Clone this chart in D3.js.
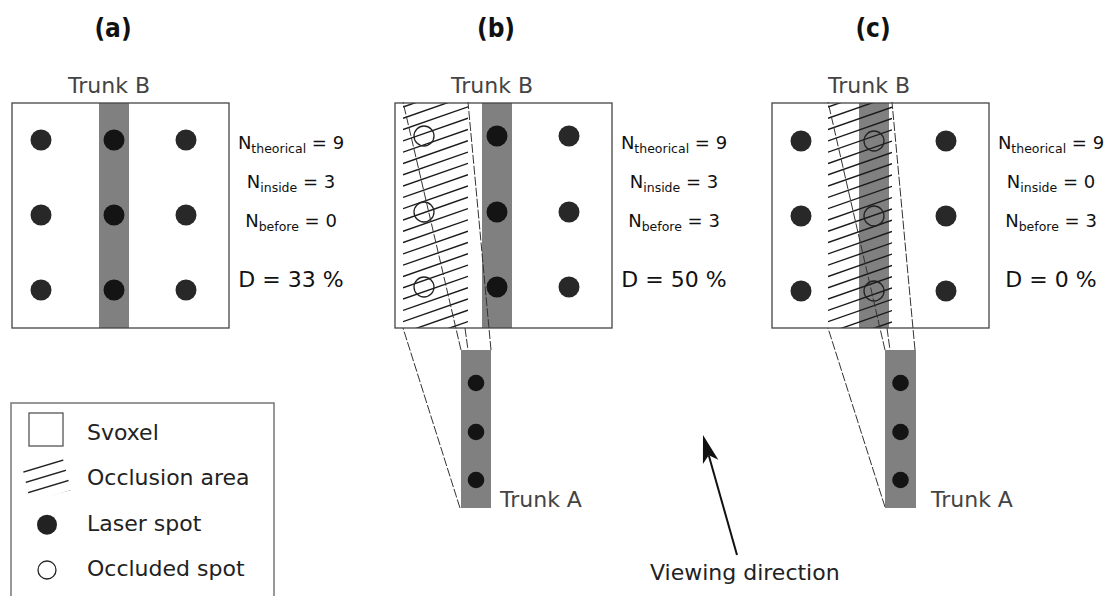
<!DOCTYPE html>
<html><head><meta charset="utf-8">
<script src="https://cdn.jsdelivr.net/npm/d3@7"></script>
<style>body{margin:0;background:#fff} svg{display:block;font-family:"DejaVu Sans",sans-serif}</style>
</head><body><svg id="c" width="1106" height="596"></svg>
<script>
// ---------- data ----------
const panelLabels = ["(a)", "(b)", "(c)"];
const nTheorical = [9, 9, 9];
const nInside = [3, 3, 0];
const nBefore = [0, 3, 3];
const densityPct = [33, 50, 0];
const occludedColumn = [null, 0, 1];
const hasTrunkA = [false, true, true];
const legendLabels = ["Svoxel", "Occlusion area", "Laser spot", "Occluded spot"];
const viewingLabel = "Viewing direction";
// diagram geometry, in svoxel-local units (svoxel = 217 x 225)
const svoxelSize = [217, 225];
const spotCols = [29, 102, 174];
const spotRows = [[37, 112, 187], [33, 109, 184], [38, 113, 188]];
const trunkBX = [87, 117];
const trunkAX = [null, [66, 96], [113, 144]];
const trunkAY = [247, 405];
const trunkASpotRows = [280, 329, 377];
const shadowX = [null, [8, 73], [56, 120]];
const rays = [
  [],
  [[66, 247, 8, -1], [96, 247, 73, -1], [65, 405, 8, 225], [70, 225, 73, 247]],
  [[113, 247, 56, -1], [143, 247, 120, -1], [113, 404, 56, 225], [115, 225, 118, 247]]
];
const trunkALabelOffset = [null, 9, 15];

// ---------- layout ----------
const svg = d3.select("#c");
const panelLeft = d3.scaleOrdinal().domain(panelLabels).range([12, 395, 772]);
const sy = d3.scaleLinear().domain([0, svoxelSize[1]]).range([103, 328]);
const HATCH_SLOPE = 0.35, HATCH_STEP = 11.3;

panelLabels.forEach((lab, i) => {
  const left = panelLeft(lab);
  const sx = d3.scaleLinear().domain([0, svoxelSize[0]]).range([left, left + svoxelSize[0]]);
  const g = svg.append("g");

  // panel label
  g.append("text").attr("x", sx(101)).attr("y", 37).attr("text-anchor", "middle")
    .style("font-family", "'DejaVu Sans Condensed','DejaVu Sans',sans-serif")
    .style("font-weight", "bold").style("font-size", "26px").attr("fill", "#111").text(lab);

  // svoxel background
  g.append("rect").attr("x", sx(0)).attr("y", sy(0)).attr("width", sx(svoxelSize[0]) - sx(0))
    .attr("height", sy(svoxelSize[1]) - sy(0)).attr("fill", "#fff");

  // trunk B
  g.append("rect").attr("x", sx(trunkBX[0])).attr("y", sy(0)).attr("width", sx(trunkBX[1]) - sx(trunkBX[0]))
    .attr("height", sy(svoxelSize[1]) - sy(0)).attr("fill", "#808080");
  g.append("text").attr("x", sx((trunkBX[0] + trunkBX[1]) / 2) - 5).attr("y", 93).attr("text-anchor", "middle")
    .style("font-size", "22px").attr("fill", "#444").text("Trunk B");

  // occlusion area hatch
  if (shadowX[i]) {
    const id = "clip" + i;
    const x0 = sx(shadowX[i][0]), x1 = sx(shadowX[i][1]);
    svg.append("clipPath").attr("id", id).append("rect")
      .attr("x", x0).attr("y", sy(0)).attr("width", x1 - x0).attr("height", sy(svoxelSize[1]) - sy(0));
    const w = x1 - x0;
    const ys = d3.range(sy(0) + 4, sy(svoxelSize[1]) + HATCH_SLOPE * w + HATCH_STEP, HATCH_STEP);
    g.append("g").attr("clip-path", `url(#${id})`).selectAll("line").data(ys).join("line")
      .attr("x1", x0).attr("y1", d => d).attr("x2", x1).attr("y2", d => d - HATCH_SLOPE * w)
      .attr("stroke", "#1a1a1a").attr("stroke-width", 1.4);
  }

  // spots
  spotCols.forEach((cx, c) => {
    spotRows[i].forEach(cy => {
      const occ = occludedColumn[i] === c;
      const inTrunk = cx > trunkBX[0] && cx < trunkBX[1];
      g.append("circle").attr("cx", sx(cx)).attr("cy", sy(cy))
        .attr("r", occ ? 10 : 10.5)
        .attr("fill", occ ? "none" : (inTrunk ? "#141414" : "#282828"))
        .attr("stroke", occ ? "#222" : "none").attr("stroke-width", 1.3);
    });
  });

  // viewing rays
  g.selectAll("line.ray").data(rays[i]).join("line").attr("class", "ray")
    .attr("x1", d => sx(d[0])).attr("y1", d => sy(d[1])).attr("x2", d => sx(d[2])).attr("y2", d => sy(d[3]))
    .attr("stroke", "#333").attr("stroke-width", 1).attr("stroke-dasharray", "9,2");

  // svoxel border
  g.append("rect").attr("x", sx(0)).attr("y", sy(0)).attr("width", sx(svoxelSize[0]) - sx(0))
    .attr("height", sy(svoxelSize[1]) - sy(0)).attr("fill", "none").attr("stroke", "#444").attr("stroke-width", 1.3);

  // trunk A
  if (hasTrunkA[i]) {
    const tx = trunkAX[i];
    g.append("rect").attr("x", sx(tx[0])).attr("y", sy(trunkAY[0])).attr("width", sx(tx[1]) - sx(tx[0]))
      .attr("height", sy(trunkAY[1]) - sy(trunkAY[0])).attr("fill", "#808080");
    trunkASpotRows.forEach(cy => {
      g.append("circle").attr("cx", sx((tx[0] + tx[1]) / 2)).attr("cy", sy(cy)).attr("r", 8.3).attr("fill", "#141414");
    });
    g.append("text").attr("x", sx(tx[1]) + trunkALabelOffset[i]).attr("y", sy(trunkAY[1]) - 1)
      .style("font-size", "22px").attr("fill", "#444").text("Trunk A");
  }

  // counts
  const tx = sx(svoxelSize[0]) + 62;
  const nLine = (y, sub, val) => {
    const t = g.append("text").attr("x", tx).attr("y", y).attr("text-anchor", "middle")
      .style("font-size", "18px").attr("fill", "#111");
    t.append("tspan").text("N");
    t.append("tspan").attr("dy", 4).style("font-size", "12.5px").text(sub);
    t.append("tspan").attr("dy", -4).text(" = " + val);
  };
  nLine(149, "theorical", nTheorical[i]);
  nLine(188, "inside", nInside[i]);
  nLine(227, "before", nBefore[i]);
  g.append("text").attr("x", tx).attr("y", 287).attr("text-anchor", "middle")
    .style("font-size", "22px").attr("fill", "#111").text("D = " + densityPct[i] + " %");
});

// ---------- legend ----------
const lg = svg.append("g");
lg.append("rect").attr("x", 11).attr("y", 403).attr("width", 263).attr("height", 230)
  .attr("fill", "none").attr("stroke", "#777").attr("stroke-width", 1.5);
const ly = d3.scalePoint().domain(legendLabels).range([440, 576]);
lg.selectAll("text").data(legendLabels).join("text").attr("x", 87).attr("y", d => ly(d))
  .style("font-size", "22px").attr("fill", "#222").text(d => d);
lg.append("rect").attr("x", 29).attr("y", 413).attr("width", 34).attr("height", 33)
  .attr("fill", "none").attr("stroke", "#555").attr("stroke-width", 1.3);
lg.append("clipPath").attr("id", "lgclip").append("path").attr("d", "M22,466 L62,455 L71,490 L30,501 Z");
const lys = d3.range(462, 520, 11);
lg.append("g").attr("clip-path", "url(#lgclip)").selectAll("line").data(lys).join("line")
  .attr("x1", 20).attr("y1", d => d).attr("x2", 72).attr("y2", d => d - 0.3 * 52)
  .attr("stroke", "#222").attr("stroke-width", 1.4);
lg.append("circle").attr("cx", 47).attr("cy", ly("Laser spot") - 6).attr("r", 10).attr("fill", "#222");
lg.append("circle").attr("cx", 47).attr("cy", ly("Occluded spot") - 6).attr("r", 9)
  .attr("fill", "none").attr("stroke", "#222").attr("stroke-width", 1.3);

// ---------- viewing direction arrow ----------
const tail = [737, 555], tip = [703, 435];
const dx = tip[0] - tail[0], dy = tip[1] - tail[1], L = Math.hypot(dx, dy);
const ux = dx / L, uy = dy / L, px = -uy, py = ux;
const back = [tip[0] - 28 * ux, tip[1] - 28 * uy];
const notch = [tip[0] - 21 * ux, tip[1] - 21 * uy];
svg.append("line").attr("x1", tail[0]).attr("y1", tail[1]).attr("x2", notch[0]).attr("y2", notch[1])
  .attr("stroke", "#111").attr("stroke-width", 2);
svg.append("path").attr("d", d3.line()([tip, [back[0] + 8 * px, back[1] + 8 * py], notch, [back[0] - 8 * px, back[1] - 8 * py]]) + "Z")
  .attr("fill", "#111");
svg.append("text").attr("x", 650).attr("y", 580).style("font-size", "22px").attr("fill", "#222").text(viewingLabel);
</script>
</body></html>
